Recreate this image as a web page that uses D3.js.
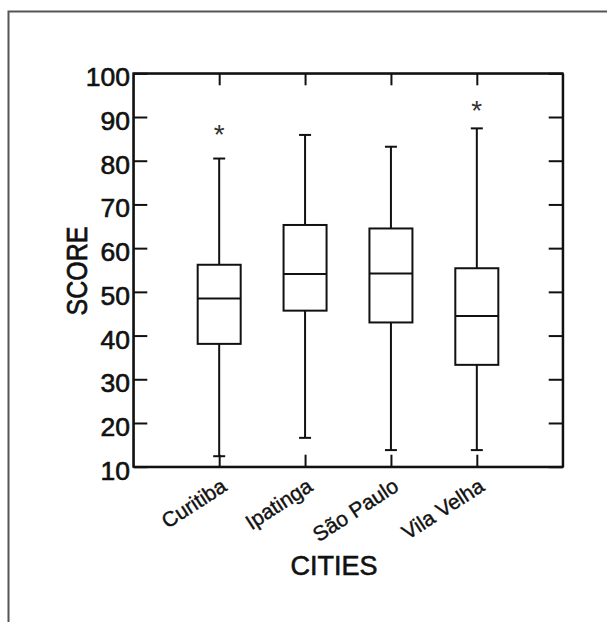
<!DOCTYPE html>
<html>
<head>
<meta charset="utf-8">
<script src="https://cdn.jsdelivr.net/npm/d3@7"></script>
<style>
  body { margin: 0; background: #fff; }
  text { font-family: "Liberation Sans", Arial, Helvetica, sans-serif; fill: #111; stroke: #111; stroke-width: 0.6px; }
</style>
</head>
<body>
<div id="chart"></div>
<script>
// box plot values
var cities = ["Curitiba", "Ipatinga", "São Paulo", "Vila Velha"];
var whiskerLow = [12.4, 16.6, 13.8, 13.8];
var q1 = [38.1, 45.7, 43.0, 33.3];
var median = [48.5, 54.1, 54.2, 44.5];
var q3 = [56.2, 65.3, 64.5, 55.4];
var whiskerHigh = [80.5, 85.9, 83.2, 87.4];
var outliers = [[87.4], [], [], [92.9]];
var yTicks = [10, 20, 30, 40, 50, 60, 70, 80, 90, 100];

var svgWidth = 607;
var svgHeight = 622;

var plot = { left: 133.3, right: 562.7, top: 73.3, bottom: 466.7 };

var svg = d3.select("#chart")
  .append("svg")
  .attr("width", svgWidth)
  .attr("height", svgHeight);

// frame of the figure (top and left edges)
svg.append("path")
  .attr("d", "M8.5," + svgHeight + "V11.5H" + svgWidth)
  .attr("fill", "none")
  .attr("stroke", "#555")
  .attr("stroke-width", 2);

var xScale = d3.scalePoint()
  .domain(cities)
  .range([plot.left, plot.right])
  .padding(1);

var yScale = d3.scaleLinear()
  .domain([10, 100])
  .range([plot.bottom, plot.top]);

var data = cities.map(function(c, i) {
  return { city: c, lo: whiskerLow[i], q1: q1[i], med: median[i], q3: q3[i], hi: whiskerHigh[i], out: outliers[i] };
});

// axes: ticks drawn inward on all four sides
var leftAxis = d3.axisLeft(yScale).tickValues(yTicks).tickSizeInner(-14).tickSizeOuter(0).tickFormat("");
var rightAxis = d3.axisRight(yScale).tickValues(yTicks).tickSizeInner(-14).tickSizeOuter(0).tickFormat("");
var bottomAxis = d3.axisBottom(xScale).tickSizeInner(-12).tickSizeOuter(0).tickFormat("");
var topAxis = d3.axisTop(xScale).tickSizeInner(-12).tickSizeOuter(0).tickFormat("");

function styleAxis(g) {
  g.selectAll("path, line").attr("stroke", "#111").attr("stroke-width", 2);
}

svg.append("g").attr("transform", `translate(${plot.left},0)`).call(leftAxis).call(styleAxis);
svg.append("g").attr("transform", `translate(${plot.right},0)`).call(rightAxis).call(styleAxis);
svg.append("g").attr("transform", `translate(0,${plot.bottom})`).call(bottomAxis).call(styleAxis);
svg.append("g").attr("transform", `translate(0,${plot.top})`).call(topAxis).call(styleAxis);

svg.append("rect")
  .attr("x", plot.left)
  .attr("y", plot.top)
  .attr("width", plot.right - plot.left)
  .attr("height", plot.bottom - plot.top)
  .attr("fill", "none")
  .attr("stroke", "#111")
  .attr("stroke-width", 2);

// y tick labels
svg.append("g")
  .selectAll("text")
  .data(yTicks)
  .enter()
  .append("text")
  .attr("transform", d => `translate(130,${yScale(d) + 13}) scale(1.06,1)`)
  .attr("text-anchor", "end")
  .style("font-size", "25px")
  .text(d => d);

// x tick labels, rotated
svg.append("g")
  .selectAll("text")
  .data(cities)
  .enter()
  .append("text")
  .attr("transform", d => `translate(${xScale(d) + 9},${plot.bottom + 23}) rotate(-33)`)
  .attr("text-anchor", "end")
  .style("font-size", "21px")
  .style("stroke-width", "0.4px")
  .text(d => d);

var boxHalf = 21.5;
var capHalf = 6;

var boxes = svg.append("g")
  .selectAll("g")
  .data(data)
  .enter()
  .append("g")
  .attr("stroke", "#111")
  .attr("stroke-width", 2)
  .attr("fill", "none");

// whiskers
boxes.append("line")
  .attr("x1", d => xScale(d.city))
  .attr("x2", d => xScale(d.city))
  .attr("y1", d => yScale(d.hi))
  .attr("y2", d => yScale(d.q3));

boxes.append("line")
  .attr("x1", d => xScale(d.city))
  .attr("x2", d => xScale(d.city))
  .attr("y1", d => yScale(d.q1))
  .attr("y2", d => yScale(d.lo));

// caps
boxes.append("line")
  .attr("x1", d => xScale(d.city) - capHalf)
  .attr("x2", d => xScale(d.city) + capHalf)
  .attr("y1", d => yScale(d.hi))
  .attr("y2", d => yScale(d.hi));

boxes.append("line")
  .attr("x1", d => xScale(d.city) - capHalf)
  .attr("x2", d => xScale(d.city) + capHalf)
  .attr("y1", d => yScale(d.lo))
  .attr("y2", d => yScale(d.lo));

// box
boxes.append("rect")
  .attr("x", d => xScale(d.city) - boxHalf)
  .attr("width", boxHalf * 2)
  .attr("y", d => yScale(d.q3))
  .attr("height", d => yScale(d.q1) - yScale(d.q3))
  .attr("fill", "#fff");

// median
boxes.append("line")
  .attr("x1", d => xScale(d.city) - boxHalf)
  .attr("x2", d => xScale(d.city) + boxHalf)
  .attr("y1", d => yScale(d.med))
  .attr("y2", d => yScale(d.med));

// outliers as asterisks
var outPts = [];
data.forEach(function(d) {
  d.out.forEach(function(v) { outPts.push({ city: d.city, v: v }); });
});

svg.append("g")
  .selectAll("text")
  .data(outPts)
  .enter()
  .append("text")
  .attr("x", d => xScale(d.city))
  .attr("y", d => yScale(d.v) + 16)
  .attr("text-anchor", "middle")
  .style("font-size", "28px")
  .style("fill", "#333")
  .style("stroke", "none")
  .text("*");

// axis titles
svg.append("text")
  .attr("transform", "translate(87,271) rotate(-90) scale(1,1.18)")
  .attr("text-anchor", "middle")
  .style("font-size", "25px")
  .text("SCORE");

svg.append("text")
  .attr("x", 334)
  .attr("y", 575)
  .attr("text-anchor", "middle")
  .style("font-size", "27px")
  .text("CITIES");
</script>
</body>
</html>
